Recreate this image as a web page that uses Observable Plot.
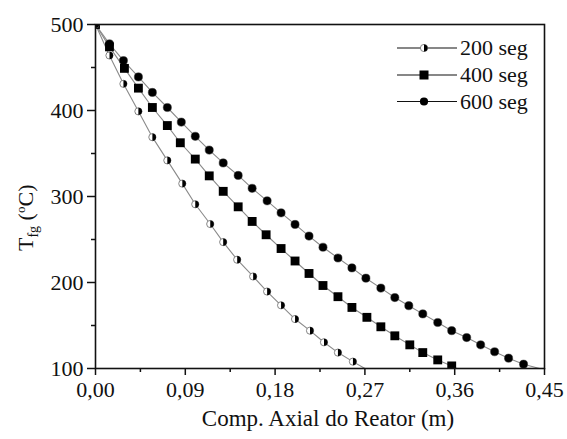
<!DOCTYPE html>
<html>
<head>
<meta charset="utf-8">
<script src="https://cdn.jsdelivr.net/npm/d3@7"></script>
<script src="https://cdn.jsdelivr.net/npm/@observablehq/plot@0.6"></script>
<style>
  html, body { margin: 0; padding: 0; background: #fff; }
  #chart { width: 567px; height: 439px; }
</style>
</head>
<body>
<div id="chart"></div>
<script>
// ---- data ----
const seriesNames = ["200 seg", "400 seg", "600 seg"];

const x200 = [0, 0.014, 0.028, 0.043, 0.057, 0.072, 0.087, 0.100, 0.115, 0.128, 0.142, 0.158, 0.172, 0.186, 0.200, 0.215, 0.229, 0.243, 0.258];
const t200 = [500, 464, 431, 399, 369, 342, 315, 291, 268, 247, 226.5, 207, 189.5, 173.5, 157.5, 144, 130.5, 118.5, 108];
const end200 = [0.270, 100];

const x400 = [0, 0.014, 0.029, 0.043, 0.057, 0.072, 0.085, 0.100, 0.114, 0.128, 0.143, 0.157, 0.171, 0.186, 0.200, 0.214, 0.228, 0.243, 0.257, 0.272, 0.286, 0.300, 0.315, 0.328, 0.343, 0.357];
const t400 = [500, 474, 449, 426, 403.5, 382.5, 362.5, 343.5, 324, 306, 288, 271, 255.5, 239.5, 225, 210.5, 196.5, 183.5, 171, 159.5, 148.5, 138, 127.5, 118.5, 110, 103];
const end400 = [0.362, 100];

const x600 = [0, 0.014, 0.028, 0.043, 0.057, 0.072, 0.086, 0.100, 0.114, 0.128, 0.143, 0.157, 0.172, 0.186, 0.200, 0.214, 0.228, 0.243, 0.257, 0.271, 0.286, 0.300, 0.314, 0.328, 0.343, 0.357, 0.372, 0.386, 0.400, 0.414, 0.429];
const t600 = [500, 477.5, 458, 439, 421, 403.5, 386.5, 370, 354, 339, 324.5, 309.5, 295, 281, 267.5, 254, 241, 228.5, 217, 205, 193.5, 182.5, 173, 163.5, 153.5, 144, 136, 127.5, 119.5, 112, 105];
const end600 = [0.445, 100];

const xTicks = [0, 0.09, 0.18, 0.27, 0.36, 0.45];
const xMinor = [0.045, 0.135, 0.225, 0.315, 0.405];
const yTicks = [100, 200, 300, 400, 500];
const yMinor = [150, 250, 350, 450];

const xLabel = "Comp. Axial do Reator (m)";

// ---- build tables ----
const toPts = (xs, ts, s) => xs.map((x, i) => ({x, t: ts[i], s}));
const p200 = toPts(x200, t200, seriesNames[0]);
const p400 = toPts(x400, t400, seriesNames[1]);
const p600 = toPts(x600, t600, seriesNames[2]);
const l200 = [...p200, {x: end200[0], t: end200[1], s: seriesNames[0]}];
const l400 = [...p400, {x: end400[0], t: end400[1], s: seriesNames[1]}];
const l600 = [...p600, {x: end600[0], t: end600[1], s: seriesNames[2]}];

// right-half filled circle symbol
const halfRight = {
  draw(context, size) {
    const r = Math.sqrt(size / Math.PI);
    context.moveTo(0, -r);
    context.arc(0, 0, r, -Math.PI / 2, Math.PI / 2);
    context.closePath();
  }
};

const FONT = "'Liberation Serif', 'Times New Roman', serif";
const lineColor = "#8a8a8a";

const plot = Plot.plot({
  width: 567,
  height: 439,
  marginLeft: 95,
  marginRight: 23,
  marginTop: 24,
  marginBottom: 71,
  style: {fontFamily: FONT, fontSize: "22px", background: "#fff", color: "#111"},
  x: {domain: [0, 0.45]},
  y: {domain: [100, 500]},
  marks: [
    Plot.line(l200, {x: "x", y: "t", stroke: lineColor, strokeWidth: 1.1}),
    Plot.line(l400, {x: "x", y: "t", stroke: lineColor, strokeWidth: 1.1}),
    Plot.line(l600, {x: "x", y: "t", stroke: lineColor, strokeWidth: 1.1}),
    Plot.dot(p600, {x: "x", y: "t", r: 4.1, fill: "#000", stroke: "#333", strokeWidth: 0.5, clip: true}),
    Plot.dot(p400, {x: "x", y: "t", r: 5, symbol: "square", fill: "#000", clip: true}),
    Plot.dot(p200, {x: "x", y: "t", r: 3.6, fill: "#fff", stroke: "#777", strokeWidth: 0.9, clip: true}),
    Plot.dot(p200, {x: "x", y: "t", r: 3.6, symbol: halfRight, fill: "#000", clip: true}),
    Plot.axisX(xTicks, {tickSize: 7, tickPadding: 6, strokeWidth: 1.5, tickFormat: d => d.toFixed(2).replace(".", ","), label: null}),
    Plot.axisX(xMinor, {tickSize: 4, strokeWidth: 1.5, tickFormat: () => "", label: null}),
    Plot.axisY(yTicks, {tickSize: 8, tickPadding: 4, strokeWidth: 1.5, label: null}),
    Plot.axisY(yMinor, {tickSize: 4, strokeWidth: 1.5, tickFormat: () => "", label: null}),
    Plot.frame({stroke: "#111", strokeWidth: 1.6}),
    Plot.text([xLabel], {text: d => d, frameAnchor: "bottom", dy: 57, dx: 8, fontSize: 23, fill: "#111"})
  ]
});

document.getElementById("chart").appendChild(plot);

// ---- y axis title: T_fg (°C) ----
const svg = d3.select(plot);
const yt = svg.append("text")
  .attr("transform", "translate(33,251) rotate(-90)")
  .attr("text-anchor", "start")
  .attr("font-family", FONT)
  .attr("font-size", 22)
  .attr("fill", "#111");
yt.append("tspan").text("T");
yt.append("tspan").attr("font-size", 14).attr("dy", 5).text("fg");
yt.append("tspan").attr("dy", -5).text(" (");
yt.append("tspan").attr("font-size", 13).attr("dy", -8).text("o");
yt.append("tspan").attr("dy", 8).text("C)");

// ---- legend ----
const legendRows = [48, 75, 101.5];
const lg = svg.append("g").attr("font-family", FONT).attr("font-size", 22).attr("fill", "#111")
  .attr("text-anchor", "start");
seriesNames.forEach((name, i) => {
  const y = legendRows[i];
  lg.append("line").attr("x1", 397).attr("x2", 457).attr("y1", y).attr("y2", y)
    .attr("stroke", "#111").attr("stroke-width", 1.2);
  if (i === 0) {
    lg.append("circle").attr("cx", 424).attr("cy", y).attr("r", 3.6)
      .attr("fill", "#fff").attr("stroke", "#777").attr("stroke-width", 0.9);
    lg.append("path").attr("transform", `translate(424,${y})`)
      .attr("d", d3.symbol(halfRight, Math.PI * 3.6 * 3.6)()).attr("fill", "#000");
  } else if (i === 1) {
    lg.append("rect").attr("x", 424 - 4.5).attr("y", y - 4.5).attr("width", 9).attr("height", 9).attr("fill", "#000");
  } else {
    lg.append("circle").attr("cx", 424).attr("cy", y).attr("r", 4.1).attr("fill", "#000");
  }
  lg.append("text").attr("x", 460).attr("y", y + 7).attr("text-anchor", "start").text(name);
});
</script>
</body>
</html>
